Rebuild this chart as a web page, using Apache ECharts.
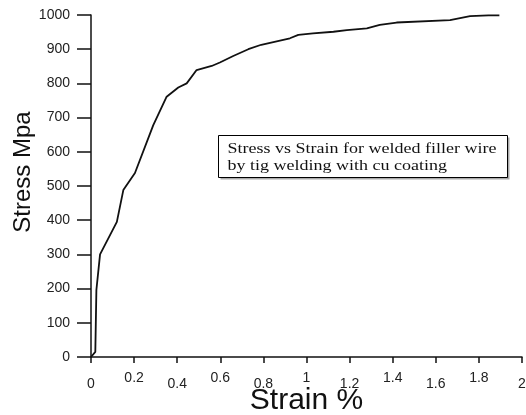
<!DOCTYPE html>
<html><head><meta charset="utf-8">
<script src="https://cdn.jsdelivr.net/npm/echarts@6/dist/echarts.min.js"></script>
<style>html,body{margin:0;padding:0;background:#fff}#c{width:526px;height:415px}</style>
</head><body><div id="c"></div>
<script>
var strain = [0, 0.02, 0.025, 0.042, 0.12, 0.15, 0.204, 0.289, 0.351, 0.405, 0.444, 0.49, 0.56, 0.598, 0.66, 0.73, 0.79, 0.923, 0.962, 1.03, 1.125, 1.187, 1.28, 1.34, 1.418, 1.666, 1.759, 1.844, 1.895];
var stress = [0, 15, 196, 300, 395, 488, 538, 678, 761, 788, 800, 839, 851, 861, 880, 900, 913, 932, 942, 946, 951, 956, 961, 971, 978, 985, 997, 999, 999];
var xTicks = ['0','0.2','0.4','0.6','0.8','1','1.2','1.4','1.6','1.8','2'];
var annotation = 'Stress vs Strain for welded filler wire\nby tig welding with cu coating';

var chart = echarts.init(document.getElementById('c'));
var pts = strain.map(function(v,i){return [v, stress[i]];});
chart.setOption({
  animation:false,
  backgroundColor:'#fff',
  grid:{left:91, right:4, top:15, bottom:58, outerBoundsMode:'none', containLabel:false},
  graphic:[{
    type:'group', left:218, top:135,
    children:[
      {type:'rect', shape:{x:2, y:2, width:289, height:42}, style:{fill:'#aaa'}},
      {type:'rect', shape:{x:0, y:0, width:289, height:42}, style:{fill:'#fff', stroke:'#000', lineWidth:1}},
      {type:'text', x:9, y:5, scaleX:1.2,
       style:{text:annotation, font:'15px "Liberation Serif"', fill:'#111', lineHeight:17}}
    ]
  }],
  xAxis:{
    type:'value', min:0, max:2, interval:0.2,
    name:'Strain %', nameLocation:'middle', nameGap:29, nameMoveOverlap:false,
    nameTextStyle:{fontFamily:'Liberation Sans', fontSize:30, color:'#111'},
    axisLine:{lineStyle:{color:'#111', width:1.5}},
    axisTick:{length:6, lineStyle:{color:'#111', width:1.5}},
    splitLine:{show:false},
    axisLabel:{
      margin:14, color:'#222', fontFamily:'Liberation Sans', fontSize:14,
      formatter:function(v){
        var i = Math.round(v/0.2);
        return i%2===0 ? '{lo|'+xTicks[i]+'}' : '{hi|'+xTicks[i]+'}';
      },
      rich:{
        lo:{fontFamily:'Liberation Sans', fontSize:14, color:'#222', padding:[6,0,0,0]},
        hi:{fontFamily:'Liberation Sans', fontSize:14, color:'#222'}
      }
    }
  },
  yAxis:{
    type:'value', min:0, max:1000, interval:100,
    name:'Stress Mpa', nameLocation:'middle', nameGap:56, nameMoveOverlap:false,
    nameTextStyle:{fontFamily:'Liberation Sans', fontSize:24, color:'#111', padding:[0,0,0,28]},
    axisLine:{show:true, lineStyle:{color:'#111', width:1.5}},
    axisTick:{show:true, length:14, lineStyle:{color:'#111', width:1.5}},
    splitLine:{show:false},
    axisLabel:{margin:21, color:'#222', fontFamily:'Liberation Sans', fontSize:14,
      formatter:function(v){return String(v);}}
  },
  series:[{
    type:'line', data:pts, showSymbol:false, symbol:'none',
    lineStyle:{color:'#111', width:1.8}
  }]
});
</script></body></html>
